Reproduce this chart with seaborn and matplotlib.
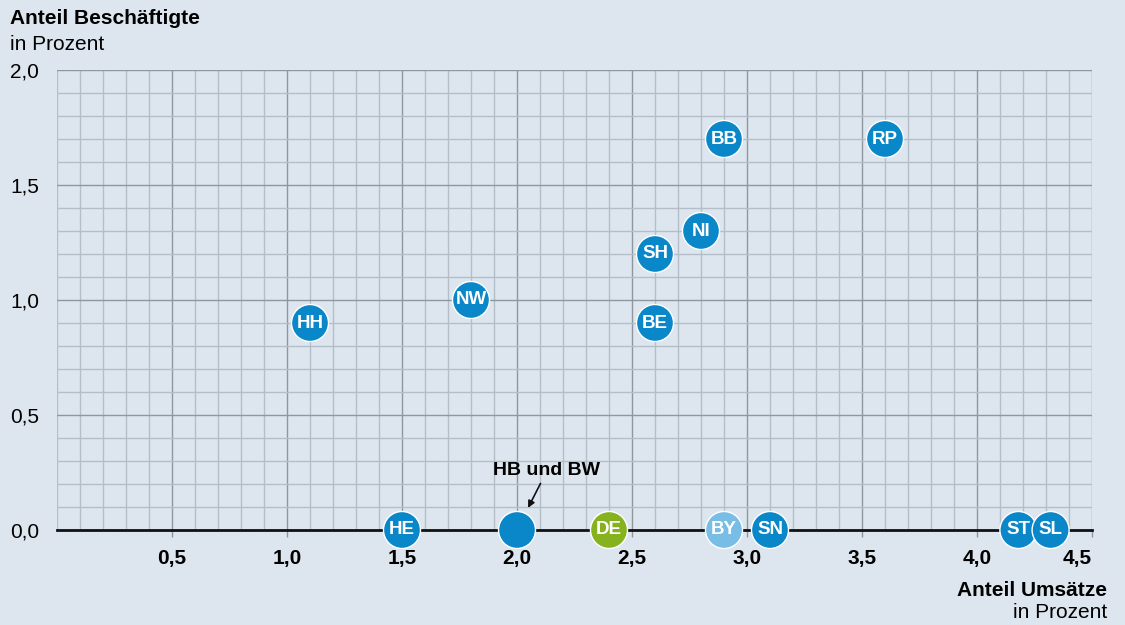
import pandas
import numpy
import matplotlib.pyplot as plt
import seaborn
from matplotlib.ticker import MultipleLocator

# Werte aus der Grafik
laender = ['HH', 'HE', 'NW', '', 'DE', 'BE', 'SH', 'NI', 'BB', 'BY', 'SN', 'RP', 'ST', 'SL']
umsaetze = [1.1, 1.5, 1.8, 2.0, 2.4, 2.6, 2.6, 2.8, 2.9, 2.9, 3.1, 3.6, 4.18, 4.32]
beschaeftigte = [0.9, 0.0, 1.0, 0.0, 0.0, 0.9, 1.2, 1.3, 1.7, 0.0, 0.0, 1.7, 0.0, 0.0]
gruppe = ['land', 'land', 'land', 'land', 'de', 'land', 'land', 'land', 'land', 'by', 'land', 'land', 'land', 'land']

x_ticks = [0.5, 1.0, 1.5, 2.0, 2.5, 3.0, 3.5, 4.0, 4.5]
x_labels = ['0,5', '1,0', '1,5', '2,0', '2,5', '3,0', '3,5', '4,0', '4,5']
y_ticks = [0.0, 0.5, 1.0, 1.5, 2.0]
y_labels = ['0,0', '0,5', '1,0', '1,5', '2,0']

farben = {'land': '#0a87c9', 'de': '#86b21f', 'by': '#77bde6'}
bg = '#dde6ee'

df = pandas.DataFrame({'land': laender, 'x': umsaetze, 'y': beschaeftigte, 'gruppe': gruppe})

plt.rcParams['font.family'] = ['Liberation Sans', 'DejaVu Sans']
fig = plt.figure(figsize=(11.25, 6.25), dpi=100, facecolor=bg)
ax = fig.add_axes([57 / 1125, 95 / 625, 1035 / 1125, 460 / 625])
ax.set_facecolor(bg)

ax.set_xlim(0, 4.5)
ax.set_ylim(0, 2.0)
ax.xaxis.set_major_locator(MultipleLocator(0.5))
ax.xaxis.set_minor_locator(MultipleLocator(0.1))
ax.yaxis.set_major_locator(MultipleLocator(0.5))
ax.yaxis.set_minor_locator(MultipleLocator(0.1))
ax.grid(which='minor', color='#b4bec8', linewidth=1.0, zorder=0)
ax.grid(which='major', color='#8e969e', linewidth=1.0, zorder=0)
ax.set_axisbelow(True)
for s in ['top', 'right', 'left']:
    ax.spines[s].set_visible(False)
ax.spines['bottom'].set_color('#111111')
ax.spines['bottom'].set_linewidth(2)
ax.spines['bottom'].set_zorder(1)

seaborn.scatterplot(data=df, x='x', y='y', hue='gruppe', palette=farben, s=710,
                    edgecolor='white', linewidth=1.0, legend=False, ax=ax, zorder=3, clip_on=False)
for _, r in df.iterrows():
    ax.text(r['x'], r['y'], r['land'], color='white', fontsize=13.5, fontweight='bold',
            ha='center', va='center', zorder=4)

ax.set_xticks(x_ticks)
ax.set_xticklabels(x_labels, fontsize=15, fontweight='bold')
ax.xaxis.get_ticklabels()[-1].set_ha('right')
ax.set_yticks(y_ticks)
ax.set_yticklabels(y_labels, fontsize=15)
ax.tick_params(axis='x', which='major', length=5, width=1, color='#8e969e', pad=9)
ax.tick_params(axis='x', which='minor', length=0)
ax.tick_params(axis='y', which='both', length=0, pad=13)
ax.set_xlabel('')
ax.set_ylabel('')

ax.annotate('HB und BW', xy=(2.048, 0.096), xytext=(2.13, 0.257), fontsize=14, fontweight='bold',
            ha='center', va='center', zorder=5,
            arrowprops=dict(arrowstyle='-|>', color='#111111', lw=1.2, shrinkA=1, shrinkB=0, mutation_scale=10))

fig.text(10 / 1125, 1 - 18 / 625, 'Anteil Beschäftigte', fontsize=15, fontweight='bold', va='center', ha='left')
fig.text(10 / 1125, 1 - 44 / 625, 'in Prozent', fontsize=15, va='center', ha='left')
fig.text(1107 / 1125, 1 - 590 / 625, 'Anteil Umsätze', fontsize=15, fontweight='bold', va='center', ha='right')
fig.text(1107 / 1125, 1 - 612 / 625, 'in Prozent', fontsize=15, va='center', ha='right')

plt.savefig('out.png', dpi=100, facecolor=bg)
